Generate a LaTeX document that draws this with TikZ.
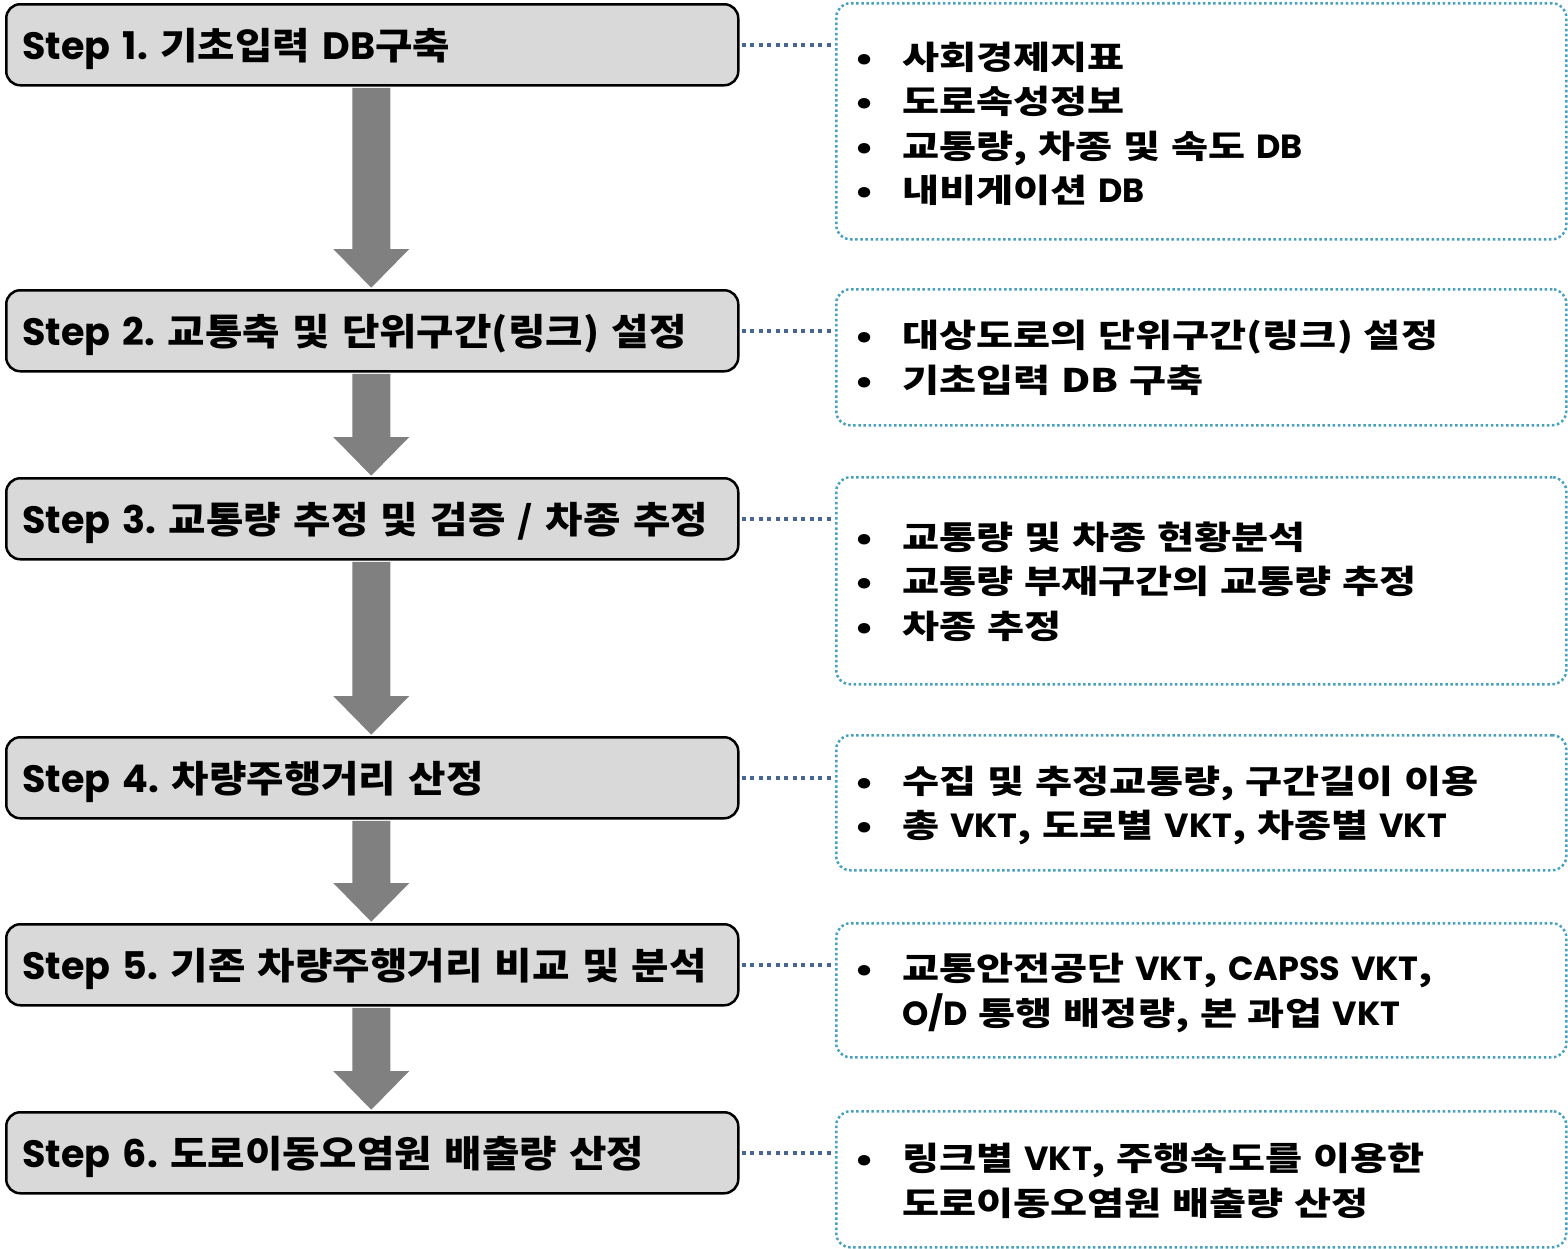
\documentclass[tikz,border=0pt]{standalone}
\usepackage{fontspec}
\usetikzlibrary{calc}
\newfontfamily\krfont{Noto Sans CJK KR}[FakeStretch=1.10]
\newfontfamily\krwide{Noto Sans CJK KR}[FakeStretch=1.24]
\newfontfamily\gothicfont{Poppins}[Scale=1.03]
\newcommand\gth[1]{{\gothicfont\bfseries #1}}
\newcommand\lowr[2]{\raisebox{-#1}[\height][\depth]{#2}}
\definecolor{boxgray}{RGB}{217,217,217}
\definecolor{arrowgray}{RGB}{128,128,128}
\definecolor{connblue}{RGB}{72,102,145}
\definecolor{dotblue}{RGB}{70,160,190}
\tikzset{
  stepbox/.style={draw=black, line width=2.5pt, fill=boxgray, rounded corners=14pt,
    minimum width=732pt, minimum height=81pt, text width=700pt, inner xsep=16pt,
    align=left, anchor=north west, font=\frenchspacing\krfont\bfseries\fontsize{37}{40}\selectfont},
  infobox/.style={draw=dotblue, line width=2.5pt, dash pattern=on 2.5pt off 2.6pt,
    rounded corners=14pt, minimum width=730pt, text width=690pt, inner xsep=20pt,
    align=left, anchor=north west, font=\frenchspacing\krwide\bfseries\fontsize{32.5}{44.5}\selectfont},
  conn/.style={draw=connblue, line width=4.5pt, dash pattern=on 4pt off 4.5pt,
    shorten <=2pt, shorten >=2pt},
  flowarrow/.style={fill=arrowgray}
}
\newcommand\blist[1]{\begin{tabular}{@{}p{46pt}@{}l@{}}#1\end{tabular}}
\begin{document}
\begin{tikzpicture}[x=1pt,y=-1pt]
\useasboundingbox (0,0) rectangle (1568,1248);
% step boxes
\node[stepbox] (s1) at (5,3) {\lowr{4pt}{\gth{Step 1.} 기초입력 \gth{DB}구축}};
\node[stepbox] (s2) at (5,289) {\lowr{4pt}{\gth{Step 2.} 교통축 및 단위구간(링크) 설정}};
\node[stepbox] (s3) at (5,477) {\lowr{4pt}{\gth{Step 3.} 교통량 추정 및 검증 / 차종 추정}};
\node[stepbox] (s4) at (5,736) {\lowr{4pt}{\gth{Step 4.} 차량주행거리 산정}};
\node[stepbox] (s5) at (5,923) {\lowr{4pt}{\gth{Step 5.} 기존 차량주행거리 비교 및 분석}};
\node[stepbox] (s6) at (5,1111) {\lowr{4pt}{\gth{Step 6.} 도로이동오염원 배출량 산정}};
% info boxes
\node[infobox, minimum height=236pt] (r1) at (835,2) {\lowr{6pt}{\blist{
  • & 사회경제지표\\
  • & 도로속성정보\\
  • & 교통량, 차종 및 속도 \gth{DB}\\
  • & 내비게이션 \gth{DB}}}};
\node[infobox, minimum height=136pt] (r2) at (835,288) {\lowr{4pt}{\blist{
  • & 대상도로의 단위구간(링크) 설정\\
  • & 기초입력 DB 구축}}};
\node[infobox, minimum height=207pt] (r3) at (835,476) {\lowr{4pt}{\blist{
  • & 교통량 및 차종 현황분석\\
  • & 교통량 부재구간의 교통량 추정\\
  • & 차종 추정}}};
\node[infobox, minimum height=135pt] (r4) at (835,734) {\lowr{4pt}{\blist{
  • & 수집 및 추정교통량, 구간길이 이용\\
  • & 총 \gth{VKT}, 도로별 \gth{VKT}, 차종별 \gth{VKT}}}};
\node[infobox, minimum height=134pt] (r5) at (835,922) {\lowr{4pt}{\blist{
  • & 교통안전공단 \gth{VKT}, \gth{CAPSS VKT},\\
    & \gth{O/D} 통행 배정량, 본 과업 \gth{VKT}}}};
\node[infobox, minimum height=136pt] (r6) at (835,1110) {\lowr{5pt}{\blist{
  • & 링크별 \gth{VKT}, 주행속도를 이용한\\
    & 도로이동오염원 배출량 산정}}};
% flow arrows
\foreach \a/\b in {s1/s2,s2/s3,s3/s4,s4/s5,s5/s6}{
  \fill[flowarrow] let \p1=(\a.south), \p2=(\b.north) in
    (\x1-20pt,\y1-1.3pt) -- (\x1+18pt,\y1-1.3pt) -- (\x1+18pt,\y2+40pt)
    -- (\x1+37pt,\y2+40pt) -- (\x1-1pt,\y2+1.3pt) -- (\x1-39pt,\y2+40pt)
    -- (\x1-20pt,\y2+40pt) -- cycle;
}
% connectors
\foreach \i in {1,...,6}{
  \draw[conn] (s\i.east) -- (s\i.east -| r\i.west);
}
\end{tikzpicture}
\end{document}
